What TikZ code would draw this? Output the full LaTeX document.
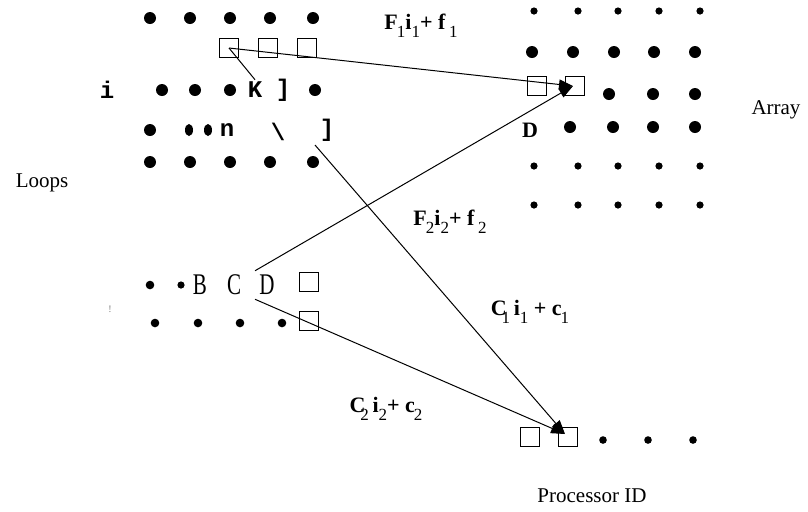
\documentclass[tikz,border=0pt]{standalone}
\usepackage{fontspec}
\setmainfont{Liberation Serif}
\setmonofont{Liberation Mono}
\usetikzlibrary{arrows.meta,shapes.geometric,calc}
\tikzset{
  bigdot/.style={circle,fill=black,inner sep=0pt,minimum size=6pt},   % big grid point
  smalldot/.style={circle,fill=black,inner sep=0pt,minimum size=3.6pt},% small grid point
  middot/.style={circle,fill=black,inner sep=0pt,minimum size=4.3pt},
  flatdot/.style={ellipse,fill=black,inner sep=0pt,minimum width=4pt,minimum height=6pt},
  cell/.style={draw=black,line width=0.6pt,inner sep=0pt,minimum size=9.8pt},
  glyph/.style={font=\fontsize{12}{12}\selectfont\ttfamily\bfseries,inner sep=1pt},
  tall/.style={font=\fontsize{15}{15}\selectfont,inner sep=2pt},
  caption/.style={font=\fontsize{10.5}{12}\selectfont},
  fmap/.style={font=\fontsize{11}{12}\selectfont\bfseries,inner sep=1pt},
  map/.style={-{Triangle[length=7pt,width=5pt]},line width=0.5pt},
  link/.style={line width=0.5pt},
}
\newcommand{\sub}[1]{\raisebox{-4.2pt}{\mdseries\fontsize{8.5}{8.5}\selectfont#1}}
\newcommand{\narrow}[1]{\scalebox{0.7}[1]{#1}}

\begin{document}
\begin{tikzpicture}[x=0.5pt,y=-0.5pt]
  \useasboundingbox (0,0) rectangle (808,511);
  % first loop nest
  \foreach \x [count=\k] in {150,190,230,270,313} {
    \node[bigdot] (ta\k) at (\x,18) {};
    \node[bigdot] (te\k) at (\x,162) {};
  }
  \foreach \x [count=\k] in {229,268,307} \node[cell] (sq\k) at (\x,48) {};
  \node[glyph] (iv) at (107,90) {i};
  \foreach \x [count=\k] in {162,195,230} \node[bigdot] (tc\k) at (\x,90) {};
  \node[glyph] (kk) at (255,90) {K};
  \node[glyph] (rb) at (283,90) {]};
  \node[bigdot] (tc4) at (315,90) {};
  \node[bigdot] (td1) at (150,130) {};
  \node[flatdot] (td2) at (189,130) {};
  \node[flatdot] (td3) at (208,130) {};
  \node[glyph] (nn) at (227,130) {n};
  \node[glyph] (bs) at (278,132) {\textbackslash};
  \node[glyph] (rc) at (327,130) {]};

  % second loop nest
  \node[middot] (ba1) at (150,285) {};
  \node[middot,minimum size=3.6pt] (ba2) at (181,285) {};
  \node[tall] (bb) at (200,285) {\narrow{B}};
  \node[tall] (bc) at (234,285) {\narrow{C}};
  \node[tall] (bd) at (267,285) {\narrow{D}};
  \node[cell] (bq1) at (309,282) {};
  \foreach \x [count=\k] in {155,198,240,282} \node[middot] (bl\k) at (\x,323) {};
  \node[cell] (bq2) at (309,321) {};
  \node[font=\tiny,text=gray] (speck) at (110,309) {!};

  % array
  \foreach \x [count=\k] in {534,578,618,659,700} {
    \node[smalldot] (aa\k) at (\x,11) {};
    \node[smalldot] (ae\k) at (\x,166) {};
    \node[smalldot] (af\k) at (\x,205) {};
  }
  \foreach \x [count=\k] in {532,573,614,654,695} \node[bigdot] (ab\k) at (\x,52) {};
  \node[cell] (as1) at (537,86) {};
  \node[cell] (as2) at (575,86) {};
  \foreach \x [count=\k] in {609,653,695} \node[bigdot] (ac\k) at (\x,94) {};
  \node[fmap] (dd) at (530,130) {D};
  \foreach \x [count=\k] in {570,613,653,695} \node[bigdot] (ad\k) at (\x,127) {};

  % processors
  \node[cell] (ps1) at (530,437) {};
  \node[cell] (ps2) at (568,437) {};
  \foreach \x [count=\k] in {603,648,693} \node[middot,minimum size=3.8pt] (pd\k) at (\x,440) {};

  % captions
  \node[caption] (loops) at (42,183) {Loops};
  \node[caption] (array) at (776,110) {Array};
  \node[caption] (proc) at (592,496) {Processor ID};

  % access and placement maps
  \coordinate (ahit) at (573,86);
  \coordinate (phit) at (565,434);
  \coordinate (from) at (315,145);
  \draw[link] (sq1.center) -- (kk.north);
  \draw[map] (sq1.center) -- (ahit);
  \draw[map] (bd.north west) -- (ahit);
  \draw[map] (from) -- (phit);
  \draw[map] (bd.south west) -- (phit);
  \node[fmap] (f1) at (421,26) {F\kern-0.5pt\sub{1}i\sub{1}+ f\,\sub{1}};
  \node[fmap] (f2) at (450,222) {F\kern-0.5pt\sub{2}i\sub{2}+ f\,\sub{2}};
  \node[fmap] (c1) at (530,312) {C\kern-2.5pt\sub{1}\,i\sub{1} + c\kern-0.5pt\sub{1}};
  \node[fmap] (c2) at (386,409) {C\kern-2.5pt\sub{2}\,i\sub{2}+ c\kern-0.5pt\sub{2}};
\end{tikzpicture}
\end{document}
